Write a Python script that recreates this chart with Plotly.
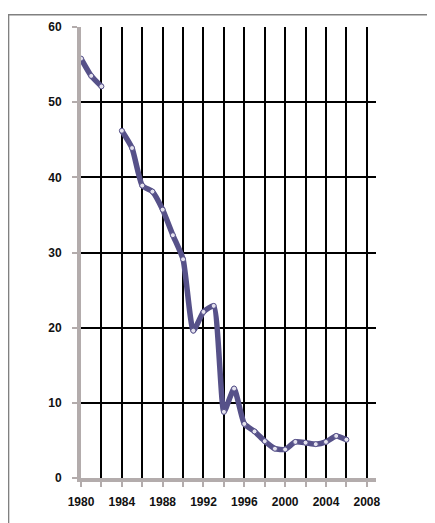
import plotly.graph_objects as go

years = [1980, 1981, 1982, 1983, 1984, 1985, 1986, 1987, 1988, 1989, 1990,
         1991, 1992, 1993, 1994, 1995, 1996, 1997, 1998, 1999, 2000,
         2001, 2002, 2003, 2004, 2005, 2006]
values = [55.8, 53.5, 52.1, None, 46.2, 43.9, 38.9, 38.1, 35.7, 32.3, 29.1,
          19.6, 22.1, 22.9, 8.8, 11.9, 7.2, 6.2, 4.9, 3.9, 3.8,
          4.8, 4.7, 4.5, 4.8, 5.6, 5.1]
x_ticks = [1980, 1984, 1988, 1992, 1996, 2000, 2004, 2008]
y_ticks = [0, 10, 20, 30, 40, 50, 60]

fig = go.Figure()
fig.add_trace(go.Scatter(
    x=years, y=values, mode="lines+markers",
    line=dict(color="#565189", width=5.5, shape="spline", smoothing=0.5),
    marker=dict(symbol="circle", size=5, color="#e4e2ee",
                line=dict(color="#565189", width=1)),
    connectgaps=False, showlegend=False, hoverinfo="x+y",
))

tickfont = dict(family="Liberation Sans, Arial", size=12,
                color="#111111", weight="bold")

fig.update_layout(
    width=427, height=515,
    margin=dict(l=73, r=59, t=13, b=45),
    paper_bgcolor="white", plot_bgcolor="white",
    xaxis=dict(
        range=[1980, 2008.9], tickmode="array", tickvals=x_ticks,
        showgrid=True, gridcolor="black", gridwidth=2,
        showline=True, linecolor="#b3acac", linewidth=4,
        ticks="outside", ticklen=5, tickwidth=2, tickcolor="#b3acac",
        tickfont=tickfont, ticklabelstandoff=5, zeroline=False,
        minor=dict(dtick=2, tick0=1980, showgrid=True, gridcolor="black",
                   gridwidth=2, ticks="outside", ticklen=5, tickwidth=2,
                   tickcolor="#b3acac"),
    ),
    yaxis=dict(
        range=[0, 60], tickmode="array", tickvals=y_ticks,
        showgrid=True, gridcolor="black", gridwidth=2,
        showline=True, linecolor="#b3acac", linewidth=4,
        ticks="outside", ticklen=5, tickwidth=2, tickcolor="#b3acac",
        tickfont=tickfont, ticklabelstandoff=8, zeroline=False,
    ),
    shapes=[dict(type="rect", xref="paper", yref="paper",
                 x0=-0.2455, x1=1.4, y0=-0.3, y1=1.027,
                 line=dict(color="#808080", width=1.5), layer="below")],
)

fig.write_html("out.html")
